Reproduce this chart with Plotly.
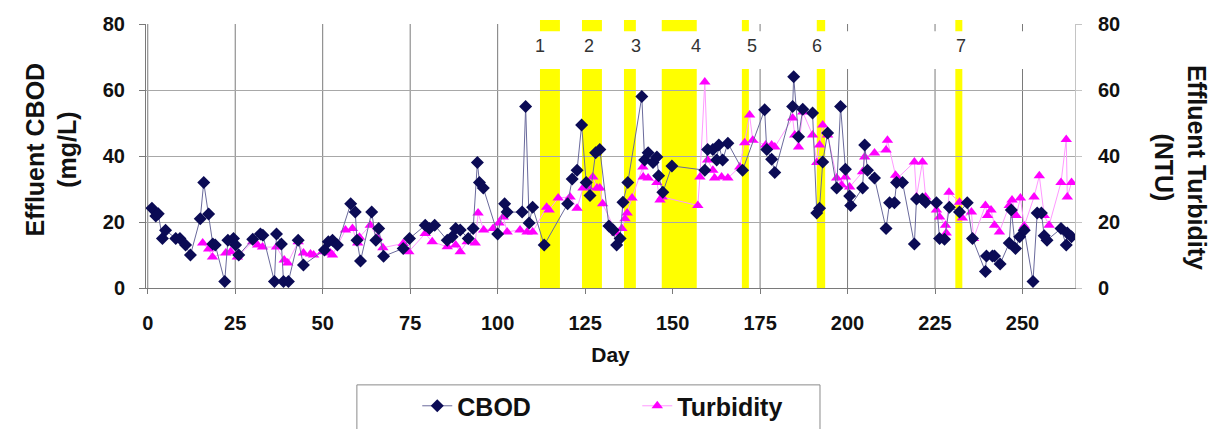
import plotly.graph_objects as go

# ---------------- data ----------------
cbod_day = [1.2, 2.3, 3.0, 4.2, 5.1, 8.0, 9.2, 10.8, 12.2, 15.0, 16.0, 17.4, 18.6, 19.3,
            22.0, 22.9, 24.5, 25.1, 26.0, 30.0, 32.2, 32.9, 36.2, 36.8, 38.2, 38.8, 40.2,
            43.0, 44.5, 50.5, 51.6, 52.8, 54.2, 58.0, 59.3, 59.8, 60.8, 64.0, 65.2, 66.0,
            67.4, 73.0, 74.8, 79.3, 80.5, 82.0, 85.6, 87.0, 88.0, 89.3, 91.6, 93.0, 94.2,
            94.8, 95.9, 100.0, 102.0, 102.7, 107.0, 108.0, 109.0, 110.0, 113.3, 120.0,
            121.3, 122.7, 124.0, 125.3, 126.4, 128.0, 129.2, 131.8, 133.0, 134.0, 135.0,
            135.8, 137.2, 141.2, 142.0, 143.0, 144.4, 145.5, 146.0, 147.2, 149.8, 159.2,
            160.0, 161.5, 162.6, 163.2, 164.3, 165.8, 170.0, 176.3, 176.9, 178.3, 179.2,
            184.3, 184.6, 186.0, 187.2, 190.0, 191.2, 192.0, 192.9, 194.3, 196.9, 198.0,
            199.4, 200.6, 200.9, 204.3, 204.9, 205.7, 207.7, 211.0, 212.0, 213.4, 214.0,
            215.7, 219.1, 219.7, 221.4, 222.3, 225.4, 226.3, 227.7, 229.1, 232.0, 234.2,
            235.7, 239.4, 239.7, 241.4, 242.0, 243.6, 246.2, 246.8, 248.0, 249.2, 250.5,
            253.0, 254.2, 255.4, 256.2, 257.0, 261.0, 262.5, 262.8, 264.0]
cbod_val = [24.2, 21.8, 22.5, 15, 17.5, 15, 15, 13, 10, 21, 32, 22.4, 13.3, 13,
            2, 14.5, 15, 13, 10, 14.8, 16.4, 16, 2, 16.4, 13.3, 2, 2,
            14.5, 7, 11.5, 14, 14.5, 13, 25.5, 23, 14.5, 8.2, 23, 14.5, 18,
            9.6, 12, 15, 19, 18, 19, 14.5, 15.5, 18, 17.6, 15, 18, 38,
            32, 30.3, 16.4, 25.5, 23, 23, 55, 19.7, 24.5, 13, 25.5,
            33, 35.7, 49.4, 32, 28, 41, 42, 18.8, 17.6, 13, 15,
            26, 32, 58, 38.8, 41, 38, 39.7, 34, 29, 37, 35.7,
            42, 42, 38.8, 43.3, 38.8, 43.9, 35.7, 54, 42, 39, 35,
            55, 64, 45.8, 54.2, 53, 22.7, 24.2, 38.2, 47, 30.3, 55,
            36, 27.9, 25, 30.3, 43.3, 35.7, 33.3, 18, 25.8, 25.8, 32,
            32, 13.3, 27, 27, 26, 25.8, 15, 14.8, 24.5, 23, 25.8,
            15, 5, 9.7, 9.7, 9.7, 7.3, 13.6, 23.6, 12, 15.5, 17.5,
            2, 22.7, 22.7, 15.8, 14.5, 18, 13, 16.7, 15.5]

turb_day = [15.7, 17.4, 18.5, 22.3, 23.7, 25.6, 30.0, 31.4, 32.8, 36.8, 39.0, 40.0, 43.0,
            44.5, 46.5, 47.4, 50.0, 52.2, 52.8, 56.5, 58.5, 60.0, 60.5, 63.6, 65.6, 67.2,
            73.0, 74.6, 79.3, 81.3, 85.6, 88.0, 89.3, 91.3, 93.6, 94.4, 96.0, 98.7, 100.4,
            101.6, 102.7, 106.4, 108.4, 110.0, 114.0, 114.7, 117.3, 120.7, 122.7, 124.4,
            125.8, 127.2, 128.4, 129.2, 130.0, 134.0, 135.5, 136.4, 137.0, 138.4, 141.5,
            141.6, 143.0, 145.5, 146.4, 147.0, 157.2, 157.8, 159.2, 160.0, 161.5, 162.0,
            164.0, 165.8, 169.2, 170.6, 172.0, 172.9, 176.6, 178.3, 179.2, 184.3, 184.9,
            186.0, 187.2, 190.0, 191.2, 192.0, 192.9, 194.3, 196.9, 198.3, 199.4, 200.6,
            204.3, 204.9, 207.7, 211.0, 211.4, 213.7, 214.3, 219.1, 219.7, 221.4, 222.3,
            225.4, 226.3, 228.0, 228.2, 229.0, 232.0, 232.8, 235.4, 236.0, 239.4, 240.0,
            241.0, 242.0, 243.4, 246.2, 247.0, 248.2, 249.4, 250.5, 253.3, 254.8, 256.2,
            257.6, 261.0, 262.5, 262.8, 264.0]
turb_val = [13.6, 11.8, 9.4, 10.6, 11, 9.4, 14, 13, 12.4, 12.4, 8.5, 7.6, 14,
            10.6, 10.3, 10, 11, 10.6, 10, 17.6, 18, 13.6, 15.4, 19, 15.3, 12.2,
            13.5, 11, 16.5, 14, 12.5, 13, 11, 14, 13.6, 22.7, 17.6, 18, 19.7,
            21.5, 17, 17.6, 17, 17, 24.5, 23.6, 27.3, 27.6, 24.2, 30.3,
            30.6, 33.6, 30.3, 30.3, 25.5, 16.7, 18, 21, 22.7, 27.3, 36.7,
            33.6, 33.3, 32, 26.7, 27.6, 25, 33.6, 62.4, 38.8, 35.7, 33.3,
            33.6, 33.3, 36.7, 44, 52.4, 44.8, 43.3, 43.3, 42.7, 51.5, 46.4,
            42.7, 53.3, 46.4, 38, 43.3, 49.4, 46.4, 33.3, 31.2, 33.6, 30.6,
            35.2, 39.7, 40.9, 41.8, 44.8, 34.2, 33.3, 38.2, 27.6, 38.2, 27.6,
            23.6, 21.5, 19, 16.7, 29, 26, 21.2, 23, 15, 25, 22,
            23.6, 19, 17, 25, 26.7, 22, 27.3, 18.8, 27.6, 34, 22,
            19, 32, 45, 27.6, 32]

band_start = [112.1, 124.1, 136.1, 146.9, 169.8, 191.2, 230.8]
band_end = [117.8, 129.8, 139.5, 156.9, 171.8, 193.6, 232.8]
band_labels = ["1", "2", "3", "4", "5", "6", "7"]
band_label_day = [112.1, 126.2, 139.5, 156.6, 172.6, 191.2, 232.5]

x_ticks = [0, 25, 50, 75, 100, 125, 150, 175, 200, 225, 250]
y_ticks = [0, 20, 40, 60, 80]

FONT = "Liberation Sans, Arial, sans-serif"
TXT = "#111111"

fig = go.Figure()

fig.add_trace(go.Scatter(
    x=turb_day, y=turb_val, name="Turbidity", mode="lines+markers",
    marker=dict(symbol="triangle-up", size=10, color="#ff00ff"),
    line=dict(color="#ff99ff", width=1), yaxis="y", legendrank=2))

fig.add_trace(go.Scatter(
    x=cbod_day, y=cbod_val, name="CBOD", mode="lines+markers",
    marker=dict(symbol="diamond", size=10, color="#0b0b55"),
    line=dict(color="#6a6a9c", width=1), yaxis="y2", legendrank=1))

shapes = []
# vertical gridlines (drawn beneath the yellow bands)
for t in x_ticks:
    shapes.append(dict(type="line", xref="x", yref="paper", x0=t, x1=t, y0=0, y1=1,
                       line=dict(color="#7a7a7a", width=1), layer="below"))
for s, e in zip(band_start, band_end):
    shapes.append(dict(type="rect", xref="x", yref="paper", x0=s, x1=e, y0=0, y1=1.015,
                       fillcolor="#ffff00", line=dict(width=0), layer="between"))
# white label box that sits on top of the bands
shapes.append(dict(type="rect", xref="x", yref="paper", x0=105, x1=265, y0=0.83, y1=0.973,
                   fillcolor="white", line=dict(width=0), layer="between"))
# legend frame
shapes.append(dict(type="rect", xref="paper", yref="paper", x0=0.227, x1=0.7255, y0=-0.7, y1=-0.367,
                   fillcolor="rgba(0,0,0,0)", line=dict(color="#8a8a8a", width=1)))

annotations = []
for lab, d in zip(band_labels, band_label_day):
    annotations.append(dict(x=d, y=0.917, xref="x", yref="paper", text=lab, showarrow=False,
                            font=dict(family=FONT, size=18, color="#333333"),
                            xanchor="center", yanchor="middle"))
annotations.append(dict(x=-0.1017, y=0.523, xref="paper", yref="paper",
                        text="Effluent CBOD<br>(mg/L)", textangle=-90, showarrow=False,
                        font=dict(family=FONT, size=25, color=TXT, weight="bold"),
                        xanchor="center", yanchor="middle"))
annotations.append(dict(x=1.113, y=0.455, xref="paper", yref="paper",
                        text="Effluent Turbidity<br>(NTU)", textangle=90, showarrow=False,
                        font=dict(family=FONT, size=25, color=TXT, weight="bold"),
                        xanchor="center", yanchor="middle"))

tickfont = dict(family=FONT, size=20, color=TXT, weight="bold")

fig.update_layout(
    width=1218, height=429,
    margin=dict(l=146, r=143, t=24, b=141, autoexpand=False),
    paper_bgcolor="white", plot_bgcolor="white",
    font=dict(family=FONT, color=TXT),
    showlegend=True,
    legend=dict(orientation="h", x=0.292, y=-0.36, xanchor="left", yanchor="top",
                xref="paper", yref="paper", bgcolor="rgba(0,0,0,0)", borderwidth=0,
                font=dict(family=FONT, size=25, color=TXT, weight="bold"),
                entrywidth=175, entrywidthmode="pixels", traceorder="normal"),
    xaxis=dict(range=[-0.5, 265], tickvals=x_ticks, showgrid=False,
               showline=True, linecolor="#7a7a7a", ticks="outside", ticklen=5,
               tickcolor="#7a7a7a", tickfont=tickfont, zeroline=False,
               ticklabelstandoff=12,
               title=dict(text="Day", font=dict(family=FONT, size=21, color=TXT, weight="bold"),
                          standoff=14)),
    yaxis=dict(range=[0, 80], tickvals=y_ticks, showgrid=True, gridcolor="#a8a8a8",
               showline=True, linecolor="#7a7a7a", ticks="outside", ticklen=6,
               tickcolor="#7a7a7a", tickfont=tickfont, zeroline=False, ticklabelstandoff=10),
    yaxis2=dict(range=[0, 80], tickvals=y_ticks, overlaying="y", side="right", showgrid=False,
                showline=True, linecolor="#c4c4c4", ticks="outside", ticklen=6,
                tickcolor="#c4c4c4", tickfont=tickfont, zeroline=False, ticklabelstandoff=12),
    shapes=shapes,
    annotations=annotations,
)

fig.write_html("out.html")
